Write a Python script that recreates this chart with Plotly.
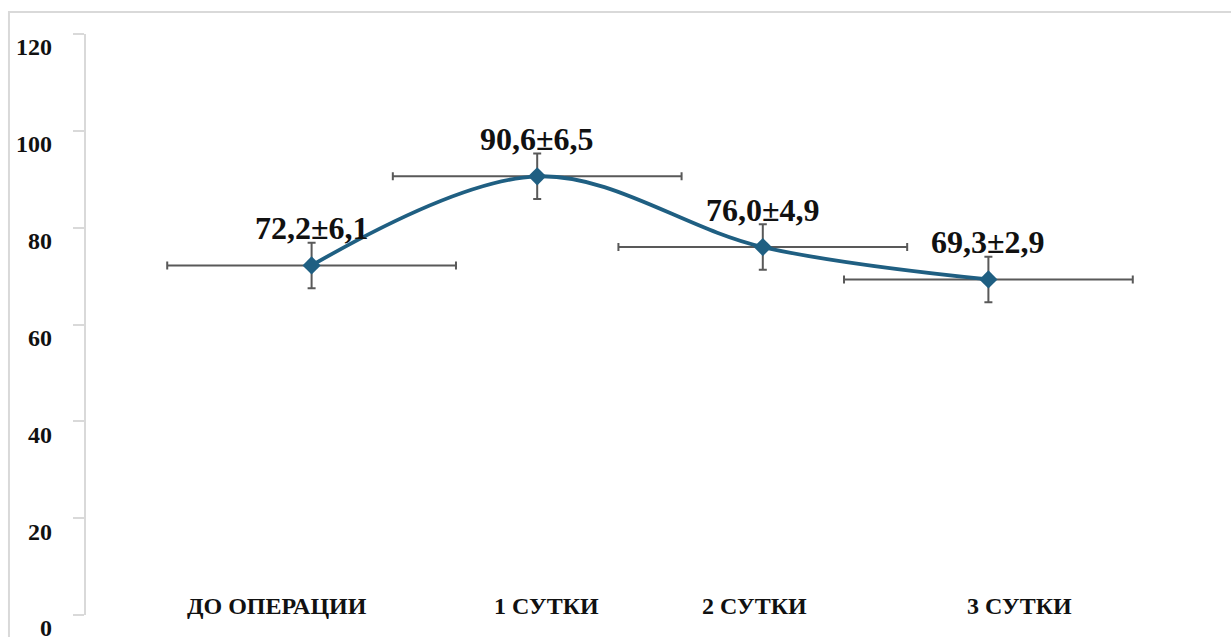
import plotly.graph_objects as go

# Time points and measured values (mean ± SD)
categories = ["ДО ОПЕРАЦИИ", "1 СУТКИ", "2 СУТКИ", "3 СУТКИ"]
mean_values = [72.2, 90.6, 76.0, 69.3]
sd_values = [6.1, 6.5, 4.9, 2.9]
y_error = [4.7, 4.7, 4.7, 4.7]
x_error = [0.64, 0.64, 0.64, 0.64]
y_ticks = [0, 20, 40, 60, 80, 100, 120]

# horizontal nudges (px) for the category captions
caption_shift = [-35, 9, -8, 31]

x_pos = list(range(len(categories)))
value_labels = [
    f"{m:.1f}±{s:.1f}".replace(".", ",") for m, s in zip(mean_values, sd_values)
]

LINE_COLOR = "#1f5f82"
ERR_COLOR = "#595959"
AXIS_COLOR = "#d9d9d9"
TEXT_COLOR = "#111111"
SERIF = "Liberation Serif, Times New Roman, serif"

W, H = 1231, 637
M_TOP, M_BOT = 34, 9
AREA_H = H - M_TOP - M_BOT
LABEL_DROP = 13 / AREA_H  # tick labels sit a little below their tick marks

fig = go.Figure()

# error bars (drawn first so the curve sits on top)
fig.add_trace(go.Scatter(
    x=x_pos, y=mean_values, mode="markers",
    marker=dict(size=1, opacity=0),
    error_y=dict(type="data", array=y_error, color=ERR_COLOR, thickness=2, width=4),
    error_x=dict(type="data", array=x_error, color=ERR_COLOR, thickness=2, width=4),
    hoverinfo="skip", showlegend=False,
))

# smoothed line with diamond markers
fig.add_trace(go.Scatter(
    x=x_pos, y=mean_values, mode="lines+markers",
    line=dict(color=LINE_COLOR, width=3.8, shape="spline", smoothing=1),
    marker=dict(symbol="diamond", size=14, color=LINE_COLOR),
    showlegend=False,
))

# an empty trace so the label axis is drawn
fig.add_trace(go.Scatter(x=[None], y=[None], yaxis="y2", showlegend=False, hoverinfo="skip"))

annotations = []
for xi, yi, txt in zip(x_pos, mean_values, value_labels):
    annotations.append(dict(
        x=xi, y=yi, xref="x", yref="y", text=txt, showarrow=False,
        yanchor="middle", yshift=37,
        font=dict(family=SERIF, size=32, color=TEXT_COLOR, weight="bold"),
    ))
for xi, name, dx in zip(x_pos, categories, caption_shift):
    annotations.append(dict(
        x=xi, y=0, xref="x", yref="y", text=name, showarrow=False,
        yanchor="bottom", yshift=-6, xshift=dx,
        font=dict(family=SERIF, size=24, color=TEXT_COLOR, weight="bold"),
    ))

fig.update_layout(
    width=W, height=H,
    margin=dict(l=86, r=17, t=M_TOP, b=M_BOT, autoexpand=False),
    paper_bgcolor="white", plot_bgcolor="rgba(0,0,0,0)",
    annotations=annotations,
    shapes=[dict(
        type="rect", xref="paper", yref="paper",
        x0=-0.0683, x1=1.2, y0=-0.2, y1=1 + (M_TOP - 12) / AREA_H,
        line=dict(color=AXIS_COLOR, width=2), layer="below",
    )],
    xaxis=dict(range=[-1, 4], visible=False),
    # value axis: line and tick marks
    yaxis=dict(
        domain=[LABEL_DROP, 1], range=[0, 120], tickvals=y_ticks,
        showline=True, linecolor=AXIS_COLOR, linewidth=1.5,
        ticks="outside", ticklen=11, tickcolor=AXIS_COLOR, tickwidth=1.5,
        showgrid=False, zeroline=False, showticklabels=False, automargin=False,
    ),
    # value axis: tick labels
    yaxis2=dict(
        domain=[0, 1 - LABEL_DROP], range=[0, 120], tickvals=y_ticks,
        anchor="x", side="left",
        showline=False, ticks="", showgrid=False, zeroline=False,
        ticklabelstandoff=33, ticklabeloverflow="allow", automargin=False,
        tickfont=dict(family=SERIF, size=24, color=TEXT_COLOR, weight="bold"),
    ),
)

fig.write_html("out.html")
